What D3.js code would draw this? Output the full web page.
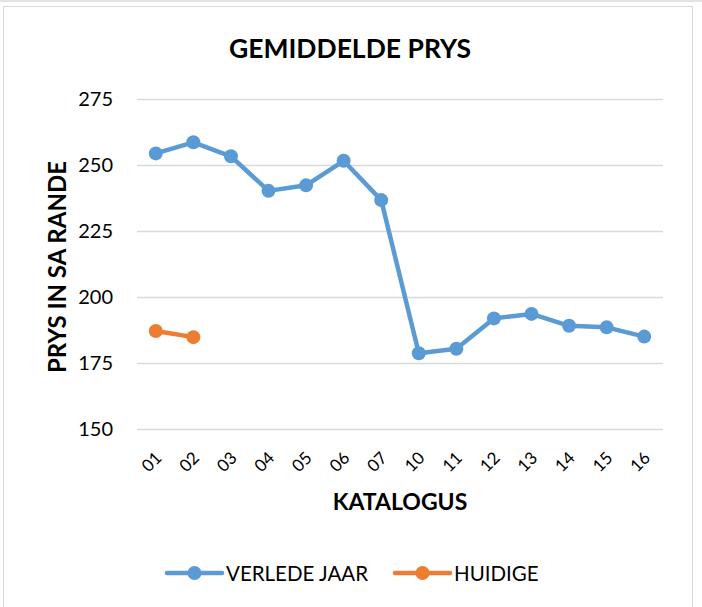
<!DOCTYPE html>
<html><head><meta charset="utf-8">
<script src="https://cdn.jsdelivr.net/npm/d3@7"></script>
<style>html,body{margin:0;padding:0;background:#fff;}svg{display:block;font-family:Lato,"Open Sans",sans-serif;}</style>
</head><body>
<svg id="c" width="702" height="607"></svg>
<script>
const categories = ["01","02","03","04","05","06","07","10","11","12","13","14","15","16"];
const verledeJaar = [254.4,258.6,253.3,240.2,242.3,251.6,236.7,178.7,180.4,191.9,193.6,189.1,188.5,185.0];
const huidige = [187.1,184.8];
const yTicks = [150,175,200,225,250,275];
const seriesNames = ["VERLEDE JAAR","HUIDIGE"];
const colors = ["#5B9BD5","#ED7D31"];

const svg = d3.select("#c");
svg.append("rect").attr("x",0).attr("y",0).attr("width",702).attr("height",2).attr("fill","#e3e3e3");
svg.append("rect").attr("x",3.5).attr("y",6.5).attr("width",689).attr("height",610)
  .attr("fill","#fff").attr("stroke","#d9d9d9").attr("stroke-width",1);

const x = d3.scaleBand().domain(categories).range([137,663]);
const y = d3.scaleLinear().domain([150,275]).range([429,99]);

// gridlines
const yAxis = d3.axisLeft(y).tickValues(yTicks).tickSize(-(663-137)).tickPadding(24);
const gy = svg.append("g").attr("transform","translate(137,0)").call(yAxis);
gy.select(".domain").remove();
gy.selectAll(".tick line").attr("stroke","#d9d9d9").attr("stroke-width",1.5);
gy.selectAll(".tick text").attr("font-size",20).attr("fill","#000").attr("font-family","Lato");

// x axis labels
const xAxis = d3.axisBottom(x).tickSize(0).tickPadding(0);
const gx = svg.append("g").attr("transform","translate(0,442)").call(xAxis);
gx.select(".domain").remove();
gx.selectAll(".tick text").attr("font-size",17).attr("fill","#000").attr("font-family","Lato")
  .attr("text-anchor","end").attr("dy","0").attr("dx","0")
  .attr("transform","translate(7,17) rotate(-45)");

// title
svg.append("text").attr("x",350).attr("y",58).attr("text-anchor","middle")
  .attr("font-size",26.5).attr("font-weight","bold").text("GEMIDDELDE PRYS");
svg.append("text").attr("transform","translate(66,267) rotate(-90)").attr("text-anchor","middle")
  .attr("font-size",24).attr("font-weight","bold").text("PRYS IN SA RANDE");
svg.append("text").attr("x",400).attr("y",510).attr("text-anchor","middle")
  .attr("font-size",23).attr("font-weight","bold").text("KATALOGUS");

const cx = d => x(d) + x.bandwidth()/2;
const line = d3.line().x(d=>cx(d.c)).y(d=>y(d.v));
const series = [verledeJaar, huidige];
series.forEach((vals,i)=>{
  const pts = vals.map((v,j)=>({c:categories[j],v}));
  svg.append("path").datum(pts).attr("d",line).attr("fill","none")
    .attr("stroke",colors[i]).attr("stroke-width",4.5).attr("stroke-linejoin","round");
  svg.selectAll(null).data(pts).enter().append("circle")
    .attr("cx",d=>cx(d.c)).attr("cy",d=>y(d.v)).attr("r",7).attr("fill",colors[i]);
});

// legend
const legendX = [167,395];
seriesNames.forEach((n,i)=>{
  const g = svg.append("g").attr("transform",`translate(${legendX[i]},573)`);
  g.append("line").attr("x1",0).attr("x2",55).attr("stroke",colors[i]).attr("stroke-width",4.5).attr("stroke-linecap","round");
  g.append("circle").attr("cx",27.5).attr("r",7).attr("fill",colors[i]);
  g.append("text").attr("x",59).attr("y",7.5).attr("font-size",20.5).attr("fill","#000").text(n);
});
</script>
</body></html>
